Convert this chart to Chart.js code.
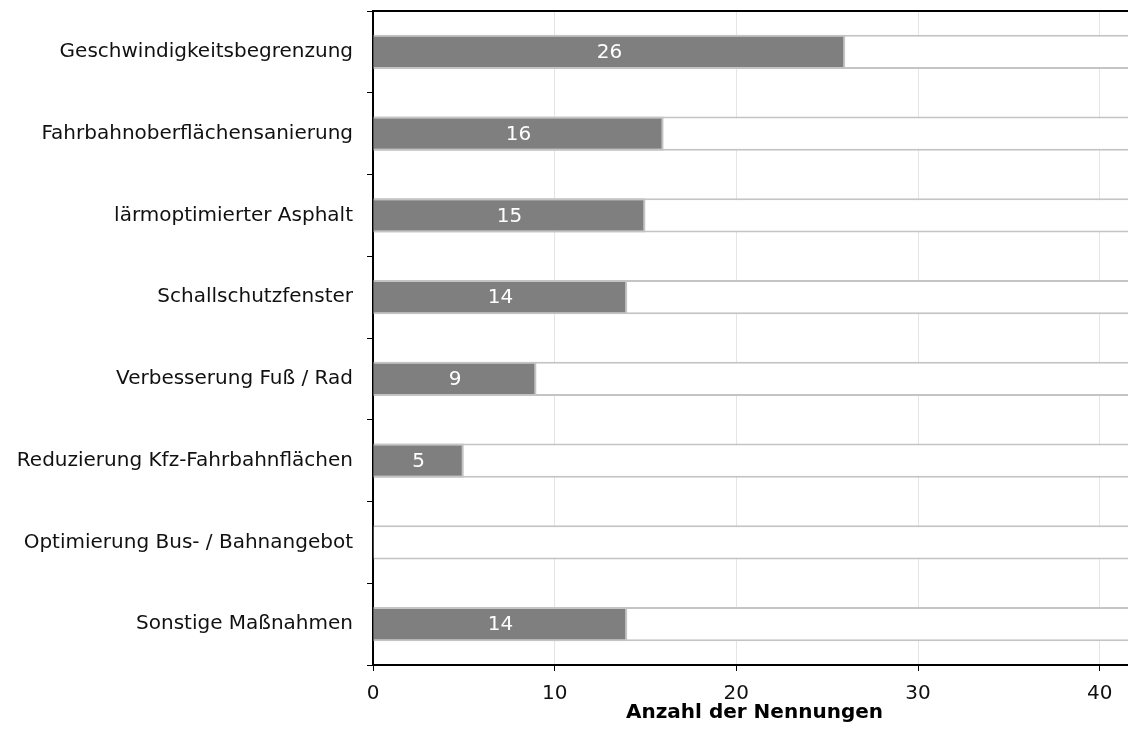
<!DOCTYPE html>
<html>
<head>
<meta charset="utf-8">
<script src="https://cdn.jsdelivr.net/npm/chart.js@4"></script>
<style>
  html, body { margin: 0; padding: 0; background: #fff; overflow: hidden; }
  /* das Original ist rechts abgeschnitten */
  #wrap { width: 1128px; height: 734px; overflow: hidden; }
  #massnahmenChart { display: block; }
</style>
</head>
<body>
<div id="wrap"><canvas id="massnahmenChart" width="1136" height="734"></canvas></div>
<script>
// Daten
const categories = [
    "Geschwindigkeitsbegrenzung",
    "Fahrbahnoberflächensanierung",
    "lärmoptimierter Asphalt",
    "Schallschutzfenster",
    "Verbesserung Fuß / Rad",
    "Reduzierung Kfz-Fahrbahnflächen",
    "Optimierung Bus- / Bahnangebot",
    "Sonstige Maßnahmen",
];
const nennungen = [26, 16, 15, 14, 9, 5, 0, 14];
const trackValues = [42, 42, 42, 42, 42, 42, 42, 42]; // heller Hintergrundbalken
const xTickValues = [0, 10, 20, 30, 40];
const xMax = 42;
const axisTitle = "Anzahl der Nennungen";

const FONT = "'DejaVu Sans', Verdana, sans-serif";

// Werte weiß in die Balken schreiben
const valueLabels = {
    id: "valueLabels",
    afterDatasetsDraw(chart) {
        const ctx = chart.ctx;
        const meta = chart.getDatasetMeta(0);
        ctx.save();
        ctx.fillStyle = "#ffffff";
        ctx.font = "20px " + FONT;
        ctx.textAlign = "center";
        ctx.textBaseline = "middle";
        meta.data.forEach((bar, i) => {
            if (!nennungen[i]) return;
            ctx.fillText(String(nennungen[i]), (bar.base + bar.x) / 2, bar.y + 1);
        });
        ctx.restore();
    },
};

// obere Rahmenlinie
const topBorder = {
    id: "topBorder",
    afterDraw(chart) {
        const ctx = chart.ctx;
        const area = chart.chartArea;
        ctx.save();
        ctx.strokeStyle = "#000";
        ctx.lineWidth = 2;
        ctx.beginPath();
        ctx.moveTo(area.left - 1, area.top);
        ctx.lineTo(chart.width, area.top);
        ctx.stroke();
        ctx.restore();
    },
};

const ctx = document.getElementById("massnahmenChart").getContext("2d");
const chart = new Chart(ctx, {
    type: "bar",
    data: {
        labels: categories,
        datasets: [
            {
                label: "Nennungen",
                data: nennungen,
                backgroundColor: "#7f7f7f",
                borderColor: "#c4c4c4",
                borderWidth: 2,
                borderSkipped: "start",
                grouped: false,
                order: 0,
            },
            {
                label: "Hintergrund",
                data: trackValues,
                backgroundColor: "#ffffff",
                borderColor: "#c4c4c4",
                borderWidth: { top: 2, bottom: 2, left: 0, right: 0 },
                borderSkipped: false,
                grouped: false,
                order: 1,
            },
        ],
    },
    options: {
        indexAxis: "y",
        responsive: false,
        animation: false,
        barPercentage: 0.42,
        categoryPercentage: 1,
        layout: { padding: { top: 11, right: 0, left: 0, bottom: 0 } },
        plugins: {
            legend: { display: false },
            tooltip: { enabled: false },
        },
        scales: {
            x: {
                min: 0,
                max: xMax,
                afterBuildTicks: (scale) => {
                    scale.ticks = xTickValues.map((v) => ({ value: v }));
                },
                afterFit: (scale) => {
                    scale.height = 69;
                    scale.paddingLeft = 0;
                    scale.paddingRight = 0;
                },
                ticks: {
                    color: "#111",
                    font: { family: FONT, size: 20 },
                    padding: 11,
                },
                grid: {
                    color: "#e4e4e4",
                    lineWidth: 1,
                    tickColor: "#000",
                    tickLength: 6,
                },
                border: { display: true, color: "#000", width: 2 },
                title: {
                    display: true,
                    text: axisTitle,
                    color: "#000",
                    font: { family: FONT, size: 20, weight: "bold" },
                    padding: { top: 0, bottom: 9 },
                },
            },
            y: {
                afterFit: (scale) => {
                    scale.width = 373;
                    scale.paddingTop = 0;
                    scale.paddingBottom = 0;
                },
                ticks: {
                    color: "#111",
                    font: { family: FONT, size: 20 },
                    padding: 14,
                },
                grid: {
                    offset: true,
                    drawOnChartArea: false,
                    tickColor: "#000",
                    tickLength: 6,
                },
                border: { display: true, color: "#000", width: 2 },
            },
        },
    },
    plugins: [valueLabels, topBorder],
});
</script>
</body>
</html>
